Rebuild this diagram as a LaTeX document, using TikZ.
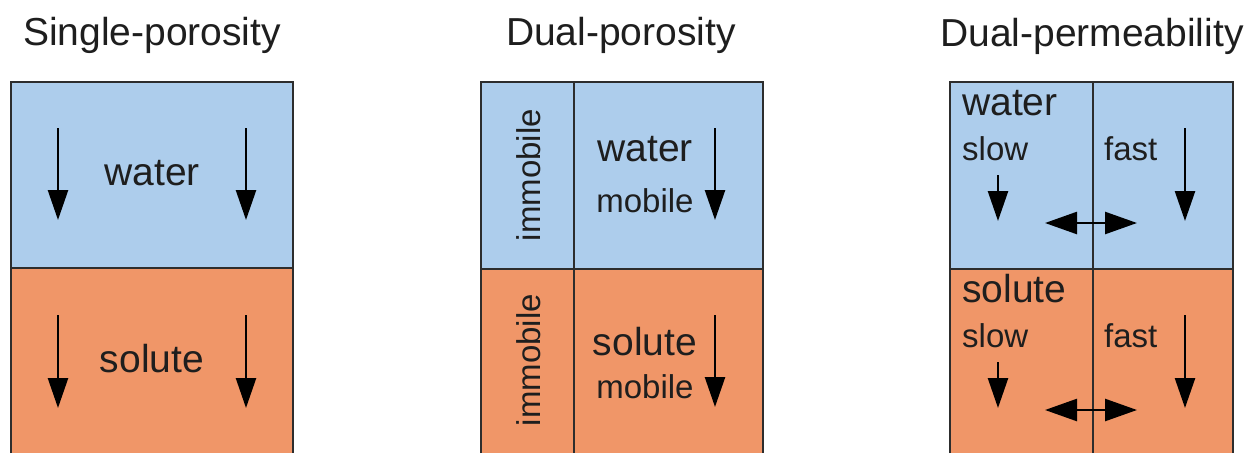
\documentclass[tikz,border=0pt]{standalone}
\usepackage{fontspec}
\setmainfont{Liberation Sans}
\usetikzlibrary{arrows.meta}
\definecolor{waterblue}{RGB}{173,205,236}
\definecolor{soluteorange}{RGB}{240,150,104}
\definecolor{edgegray}{RGB}{45,45,45}
\definecolor{inkgray}{RGB}{30,30,30}
\begin{document}
\begin{tikzpicture}[x=1pt,y=-1pt,
  big/.style={font=\fontsize{39}{39}\selectfont, inner sep=0pt, text=inkgray},
  small/.style={font=\fontsize{33}{33}\selectfont, inner sep=0pt, text=inkgray},
  flow/.style={line width=2.5pt, draw=black, -{Triangle[width=20pt,length=30pt]}},
  exch/.style={line width=2.5pt, draw=black, {Triangle[width=22pt,length=32pt]}-{Triangle[width=22pt,length=32pt]}},
  wcell/.style={fill=waterblue},
  scell/.style={fill=soluteorange},
  frame/.style={draw=edgegray, line width=2pt}]
\useasboundingbox (0,0) rectangle (1258,453);
\fill[white] (0,0) rectangle (1258,453);

% ---------- Single-porosity ----------
\node[big, anchor=base] (t1) at (152,45) {Single-porosity};
\fill[wcell] (11,82) rectangle (293,268);
\fill[scell] (11,268) rectangle (293,453);
\draw[frame] (11,453) -- (11,82) -- (293,82) -- (293,453);
\draw[frame] (11,268) -- (293,268);
\node[big, anchor=base] (w1) at (152,185) {water};
\node[big, anchor=base] (s1) at (152,372) {solute};
\coordinate (a1s) at (58,128);  \coordinate (a1e) at (58,220);
\coordinate (a2s) at (246,128); \coordinate (a2e) at (246,220);
\coordinate (a3s) at (58,315);  \coordinate (a3e) at (58,408);
\coordinate (a4s) at (246,315); \coordinate (a4e) at (246,408);
\draw[flow] (a1s) -- (a1e);
\draw[flow] (a2s) -- (a2e);
\draw[flow] (a3s) -- (a3e);
\draw[flow] (a4s) -- (a4e);

% ---------- Dual-porosity ----------
\node[big, anchor=base] (t2) at (621,45) {Dual-porosity};
\fill[wcell] (481,82) rectangle (763,269);
\fill[scell] (481,269) rectangle (763,453);
\draw[frame] (481,453) -- (481,82) -- (763,82) -- (763,453);
\draw[frame] (481,269) -- (763,269);
\draw[frame] (574,82) -- (574,453);
\node[small, anchor=base, rotate=90] (im1) at (540,175) {immobile};
\node[small, anchor=base, rotate=90] (im2) at (540,360) {immobile};
\node[big, anchor=base] (w2) at (645,161) {water};
\node[small, anchor=base] (m1) at (645,212) {mobile};
\node[big, anchor=base] (s2) at (645,355) {solute};
\node[small, anchor=base] (m2) at (645,398) {mobile};
\coordinate (b1s) at (715,128); \coordinate (b1e) at (715,220);
\coordinate (b2s) at (715,315); \coordinate (b2e) at (715,407);
\draw[flow] (b1s) -- (b1e);
\draw[flow] (b2s) -- (b2e);

% ---------- Dual-permeability ----------
\begin{scope}
\clip (900,0) rectangle (1243,80);
\node[big, anchor=base west] (t3) at (940,46) {Dual-permeability};
\end{scope}
\fill[wcell] (950,82) rectangle (1233,269);
\fill[scell] (950,269) rectangle (1233,453);
\draw[frame] (950,453) -- (950,82) -- (1233,82) -- (1233,453);
\draw[frame] (950,269) -- (1233,269);
\draw[frame] (1093,82) -- (1093,453);
\node[big, anchor=base west] (w3) at (962,115) {water};
\node[small, anchor=base west] (sl1) at (962,160) {slow};
\node[small, anchor=base west] (f1) at (1104,160) {fast};
\node[big, anchor=base west] (s3) at (962,302) {solute};
\node[small, anchor=base west] (sl2) at (962,347) {slow};
\node[small, anchor=base west] (f2) at (1104,347) {fast};
\coordinate (c1s) at (998,175);  \coordinate (c1e) at (998,221);
\coordinate (c2s) at (1185,128); \coordinate (c2e) at (1185,221);
\coordinate (c3s) at (998,362);  \coordinate (c3e) at (998,408);
\coordinate (c4s) at (1185,315); \coordinate (c4e) at (1185,408);
\draw[flow] (c1s) -- (c1e);
\draw[flow] (c2s) -- (c2e);
\draw[flow] (c3s) -- (c3e);
\draw[flow] (c4s) -- (c4e);
\coordinate (x1l) at (1045,223); \coordinate (x1r) at (1137,223);
\coordinate (x2l) at (1045,410); \coordinate (x2r) at (1137,410);
\draw[exch] (x1l) -- (x1r);
\draw[exch] (x2l) -- (x2r);
\end{tikzpicture}
\end{document}
